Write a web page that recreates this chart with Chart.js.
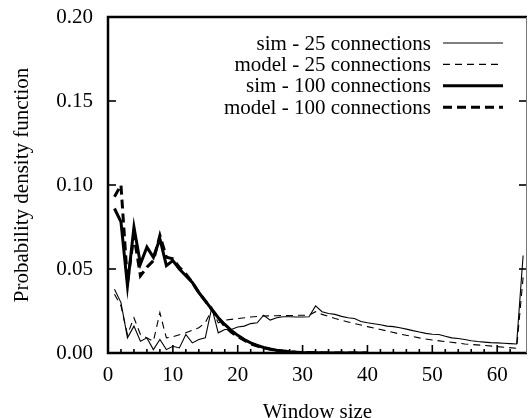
<!DOCTYPE html>
<html>
<head>
<meta charset="utf-8">
<script src="https://cdn.jsdelivr.net/npm/chart.js@4.4.0/dist/chart.umd.min.js"></script>
<style>
html,body{margin:0;padding:0;background:#fff;}
#wrap{width:529px;height:418px;position:relative;}
</style>
</head>
<body>
<div id="wrap"><canvas id="c" width="529" height="418"></canvas></div>
<script>
// ---- data ----
const seriesLabels = ["sim - 25 connections", "model - 25 connections", "sim - 100 connections", "model - 100 connections"];

const sim25X = [1,2,3,4,5,6,7,8,9,10,11,12,13,14,15,16,17,18,19,20,21,22,23,24,25,26,27,28,29,30,31,32,33,34,35,36,37,38,39,40,41,42,43,44,45,46,47,48,49,50,51,52,53,54,55,56,57,58,59,60,61,62,63,64];
const sim25Y = [0.038,0.030,0.009,0.016,0.007,0.009,0.002,0.008,0.002,0.004,0.003,0.011,0.006,0.008,0.009,0.027,0.012,0.014,0.014,0.0155,0.016,0.0175,0.018,0.0225,0.0196,0.021,0.0216,0.0216,0.0214,0.0214,0.0216,0.028,0.0246,0.0235,0.023,0.0218,0.021,0.0205,0.0188,0.018,0.0174,0.0168,0.016,0.0157,0.015,0.0142,0.0133,0.0125,0.0117,0.0112,0.011,0.0100,0.0090,0.0086,0.0080,0.0073,0.0068,0.0065,0.0062,0.0060,0.0058,0.0056,0.0054,0.058];

const model25X = [1,2,3,4,5,6,7,8,9,10,12,14,15,16,17,18,20,22,24,26,28,30,31,32,33,35,37,40,42,45,48,50,52,55,58,60,63,64];
const model25Y = [0.035,0.028,0.011,0.021,0.011,0.009,0.007,0.024,0.009,0.0097,0.012,0.015,0.018,0.0256,0.018,0.0195,0.0205,0.0214,0.022,0.0222,0.0223,0.0225,0.0225,0.0246,0.023,0.0205,0.0185,0.0157,0.014,0.0113,0.009,0.0077,0.0068,0.0054,0.0045,0.0038,0.0028,0.045];

const sim100X = [1,2,3,4,5,6,7,8,9,10,11,12,13,14,15,16,17,18,19,20,21,22,23,24,25,26,27,28,29,30,32,35,40];
const sim100Y = [0.086,0.078,0.040,0.075,0.053,0.063,0.057,0.068,0.052,0.055,0.050,0.046,0.042,0.036,0.031,0.026,0.021,0.017,0.0135,0.0105,0.008,0.006,0.0045,0.0033,0.0024,0.0017,0.0012,0.0008,0.0005,0.0003,0.0001,0,0];

const model100X = [1,2,3,4,5,6,7,8,9,10,11,12,13,14,15,16,17,18,19,20,22,24,26,28,30,33,40];
const model100Y = [0.093,0.100,0.042,0.070,0.046,0.051,0.055,0.070,0.057,0.056,0.051,0.047,0.042,0.036,0.031,0.026,0.021,0.016,0.0125,0.0098,0.0055,0.003,0.0015,0.0007,0.0003,0,0];

const xTickMajor = [0,10,20,30,40,50,60];
const yTicks = [0.00,0.05,0.10,0.15,0.20];

function pts(xs, ys){ return xs.map((x,i)=>({x:x, y:ys[i]})); }

const FONT = "'Liberation Serif', 'Times New Roman', serif";

const innerTicks = {
  id: 'innerTicks',
  afterDraw(chart){
    const {ctx, chartArea:a, scales:{x, y}} = chart;
    ctx.save();
    ctx.strokeStyle = '#000';
    ctx.lineWidth = 1.6;
    x.ticks.forEach(t => {
      const px = x.getPixelForValue(t.value);
      const len = xTickMajor.includes(t.value) ? 8 : 4;
      ctx.beginPath(); ctx.moveTo(px, a.bottom); ctx.lineTo(px, a.bottom - len); ctx.stroke();
    });
    y.ticks.forEach(t => {
      const py = y.getPixelForValue(t.value);
      ctx.beginPath(); ctx.moveTo(a.left, py); ctx.lineTo(a.left + 8, py); ctx.stroke();
      ctx.beginPath(); ctx.moveTo(a.right, py); ctx.lineTo(a.right - 8, py); ctx.stroke();
    });
    // frame
    ctx.lineWidth = 2.5;
    ctx.beginPath();
    ctx.moveTo(a.right, a.top); ctx.lineTo(a.left, a.top); ctx.lineTo(a.left, a.bottom); ctx.lineTo(a.right, a.bottom);
    ctx.stroke();
    ctx.lineWidth = 1;
    ctx.strokeStyle = '#777';
    ctx.beginPath(); ctx.moveTo(a.right - 0.5, a.top); ctx.lineTo(a.right - 0.5, a.bottom); ctx.stroke();
    // legend
    ctx.font = "21px " + FONT;
    ctx.fillStyle = '#000';
    ctx.textAlign = 'right';
    ctx.textBaseline = 'middle';
    chart.data.datasets.forEach((ds, i) => {
      const cy = a.top + 26 + i * 21.4;
      ctx.fillText(ds.label, a.right - 96, cy + 1);
      ctx.save();
      ctx.strokeStyle = '#000';
      ctx.lineWidth = ds.borderWidth;
      ctx.setLineDash(ds.borderDash || []);
      ctx.beginPath(); ctx.moveTo(a.right - 84, cy); ctx.lineTo(a.right - 24, cy); ctx.stroke();
      ctx.restore();
    });
    ctx.restore();
  }
};

new Chart(document.getElementById('c'), {
  type: 'line',
  data: {
    datasets: [
      {label: seriesLabels[0], data: pts(sim25X, sim25Y), borderColor:'#000', borderWidth:1.1, borderDash:[], pointRadius:0, fill:false, tension:0},
      {label: seriesLabels[1], data: pts(model25X, model25Y), borderColor:'#000', borderWidth:1.1, borderDash:[7,5], pointRadius:0, fill:false, tension:0},
      {label: seriesLabels[2], data: pts(sim100X, sim100Y), borderColor:'#000', borderWidth:3, borderDash:[], pointRadius:0, fill:false, tension:0},
      {label: seriesLabels[3], data: pts(model100X, model100Y), borderColor:'#000', borderWidth:3, borderDash:[9,5], pointRadius:0, fill:false, tension:0}
    ]
  },
  options: {
    responsive: false,
    animation: false,
    events: [],
    layout: {padding: {top: 17, right: 2, left: 0, bottom: 0}},
    plugins: {legend: {display: false}, tooltip: {enabled: false}},
    scales: {
      x: {
        type: 'linear', min: 0, max: 64.6,
        afterBuildTicks: s => { s.ticks = s.ticks.filter(t => Math.abs(t.value % 2) < 1e-9); },
        afterFit: s => { s.height = 65; s.paddingLeft = 0; s.paddingRight = 0; },
        grid: {display: false, drawTicks: false},
        border: {display: false},
        ticks: {stepSize: 2, autoSkip: false, maxRotation: 0, padding: 10, color: '#000',
          font: {family: FONT, size: 21},
          callback: v => xTickMajor.includes(v) ? String(v) : ''},
        title: {display: true, text: 'Window size', color: '#000', font: {family: FONT, size: 21, lineHeight: 0.55}, padding: {top: 0, bottom: 0}}
      },
      y: {
        type: 'linear', min: 0, max: 0.2,
        afterBuildTicks: s => { s.ticks = yTicks.map(v => ({value: v})); },
        afterFit: s => { s.width = 108; s.paddingTop = 0; s.paddingBottom = 0; },
        grid: {display: false, drawTicks: false},
        border: {display: false},
        ticks: {stepSize: 0.05, padding: 15, color: '#000', font: {family: FONT, size: 21},
          callback: v => Number(v).toFixed(2)},
        title: {display: true, text: 'Probability density function', color: '#000', font: {family: FONT, size: 21, lineHeight: 1.0}, padding: {top: 12, bottom: 0}}
      }
    }
  },
  plugins: [innerTicks]
});
</script>
</body>
</html>
